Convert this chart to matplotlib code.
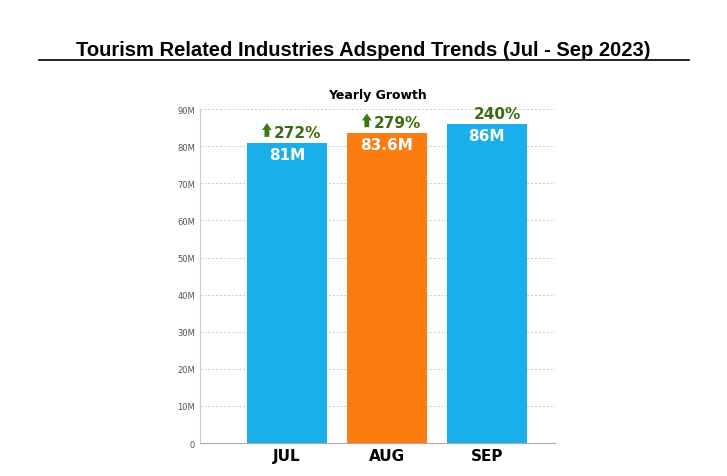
import matplotlib
matplotlib.use("Agg")
import matplotlib.pyplot as plt

months = ["JUL", "AUG", "SEP"]
values = [81, 83.6, 86]
labels = ["81M", "83.6M", "86M"]
growth = ["272%", "279%", "240%"]
colors = ["#1aaeea", "#fb7d12", "#1aaeea"]
yticks = [0, 10, 20, 30, 40, 50, 60, 70, 80, 90]

fig = plt.figure(figsize=(7.27, 4.77), dpi=100)
ax = fig.add_axes([0.275, 0.069, 0.488, 0.700])
x = range(len(months))
ax.bar(x, values, width=0.8, color=colors, zorder=2)
ax.set_xlim(-0.87, 2.68)
ax.set_ylim(0, 90)
ax.set_yticks(yticks)
ax.set_yticklabels(["0"] + [f"{v}M" for v in yticks[1:]], fontsize=6, color="#555555")
ax.set_xticks(list(x))
ax.set_xticklabels(months, fontsize=11, fontweight="bold", family="DejaVu Sans Condensed" if False else "Liberation Sans Narrow")
ax.tick_params(length=0)
ax.yaxis.grid(True, linestyle=(0, (2, 2)), color="#cccccc", linewidth=0.7, zorder=0)
for s in ["top", "right"]:
    ax.spines[s].set_visible(False)
ax.spines["left"].set_color("#cccccc")
ax.spines["bottom"].set_color("#aaaaaa")
for i, (v, l, g) in enumerate(zip(values, labels, growth)):
    ax.text(i, v - 1.2, l, ha="center", va="top", color="white", fontsize=11,
            fontweight="bold", family="Liberation Sans Narrow")
    ax.annotate("", xy=(i - 0.2, v + 6), xytext=(i - 0.2, v + 0.8),
                arrowprops=dict(arrowstyle="simple,head_width=0.7,head_length=0.5,tail_width=0.35",
                                color="#3a7a12", lw=0))
    ax.text(i - 0.13, v + 0.8, g, ha="left", va="bottom", color="#3a6b10", fontsize=11,
            fontweight="bold", family="Liberation Sans Narrow")
ax.set_title("Yearly Growth", fontsize=9, fontweight="bold", pad=8)
fig.text(0.5, 0.895, "Tourism Related Industries Adspend Trends (Jul - Sep 2023)",
         ha="center", va="center", fontsize=14.5, fontweight="bold",
         family="Liberation Sans")
fig.add_artist(plt.Line2D([0.053, 0.948], [0.872, 0.872], color="black", lw=1.2))
fig.savefig("out.png", dpi=100)
